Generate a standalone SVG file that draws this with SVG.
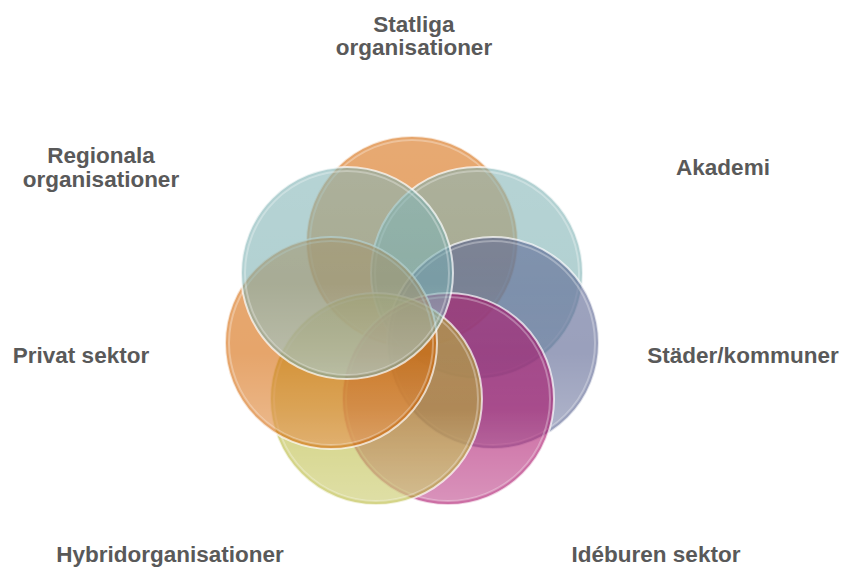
<svg xmlns="http://www.w3.org/2000/svg" width="844" height="567" viewBox="0 0 844 567">
<defs>
<linearGradient id="sheen" x1="0" y1="0" x2="0" y2="1">
<stop offset="0" stop-color="#ffffff" stop-opacity="0.05"/>
<stop offset="0.55" stop-color="#ffffff" stop-opacity="0"/>
<stop offset="1" stop-color="#ffffff" stop-opacity="0.25"/>
</linearGradient>
<style>
.lbl{font-family:"Liberation Sans",Arial,sans-serif;font-weight:bold;font-size:22.5px;fill:#595959;text-anchor:middle}
.c{fill-opacity:0.58;stroke:#ffffff;stroke-opacity:0.7;stroke-width:2}
.s{fill:url(#sheen);stroke:#ffffff;stroke-opacity:0.3;stroke-width:2}
</style>
</defs>
<rect width="844" height="567" fill="#ffffff"/>
<g id="circles">
<g id="n-statliga"><circle class="c" cx="412" cy="242" r="106" fill="#D46400"/><circle class="s" cx="412" cy="242" r="102"/></g>
<g id="n-akademi"><circle class="c" cx="477" cy="273" r="106" fill="#7AB0B1"/><circle class="s" cx="477" cy="273" r="102"/></g>
<g id="n-stader"><circle class="c" cx="493" cy="343" r="106" fill="#515B8B"/><circle class="s" cx="493" cy="343" r="102"/></g>
<g id="n-ideburen"><circle class="c" cx="448" cy="399" r="106" fill="#A70562" fill-opacity="0.7"/><circle class="s" cx="448" cy="399" r="102"/></g>
<g id="n-hybrid"><circle class="c" cx="376" cy="399" r="106" fill="#B5B530"/><circle class="s" cx="376" cy="399" r="102"/></g>
<g id="n-privat"><circle class="c" cx="331" cy="343" r="106" fill="#D46400"/><circle class="s" cx="331" cy="343" r="102"/></g>
<g id="n-regional"><circle class="c" cx="347" cy="273" r="106" fill="#7AB0B1" stroke-width="3"/><circle class="s" cx="347" cy="273" r="102"/></g>
</g>
<g id="labels">
<text class="lbl" x="414" y="32">Statliga</text>
<text class="lbl" x="414" y="55">organisationer</text>
<text class="lbl" x="101" y="163">Regionala</text>
<text class="lbl" x="101" y="187">organisationer</text>
<text class="lbl" x="723" y="175">Akademi</text>
<text class="lbl" x="81" y="363">Privat sektor</text>
<text class="lbl" x="743" y="363">Städer/kommuner</text>
<text class="lbl" x="170" y="562">Hybridorganisationer</text>
<text class="lbl" x="656" y="562">Idéburen sektor</text>
</g>
</svg>
